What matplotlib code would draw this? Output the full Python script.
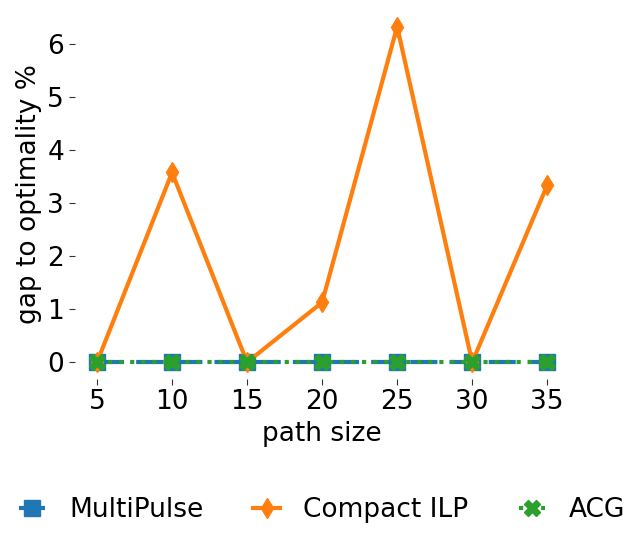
import matplotlib
matplotlib.use("Agg")
import matplotlib.pyplot as plt

path_size = [5, 10, 15, 20, 25, 30, 35]
multipulse = [0, 0, 0, 0, 0, 0, 0]
compact_ilp = [0, 3.58, 0, 1.13, 6.33, 0, 3.34]
acg = [0, 0, 0, 0, 0, 0, 0]

plt.rcParams['font.size'] = 19

fig = plt.figure(figsize=(6.44, 5.47), dpi=100)
ax = fig.add_axes([0.1157, 0.307, 0.769, 0.675])

ax.plot(path_size, multipulse, color='#1f77b4', linestyle=(0, (6.5, 2.9)), linewidth=3,
        marker='s', markersize=11, label='MultiPulse')
ax.plot(path_size, compact_ilp, color='#ff7f0e', linestyle='-', linewidth=3,
        marker='d', markersize=10, label='Compact ILP')
ax.plot(path_size, acg, color='#2ca02c', linestyle=':', linewidth=3,
        marker='X', markersize=11, label='ACG')

ax.set_xlabel('path size')
ax.set_ylabel('gap to optimality %')
ax.set_xticks(path_size)
ax.set_yticks(range(0, 7))
for s in ax.spines.values():
    s.set_visible(False)
ax.tick_params(length=4, color='#333333')

fig.legend(loc='lower center', bbox_to_anchor=(0.5, 0.0), ncol=3, frameon=False,
           handlelength=1.0, handletextpad=0.9, columnspacing=1.9)

fig.savefig('out.png', dpi=100)
